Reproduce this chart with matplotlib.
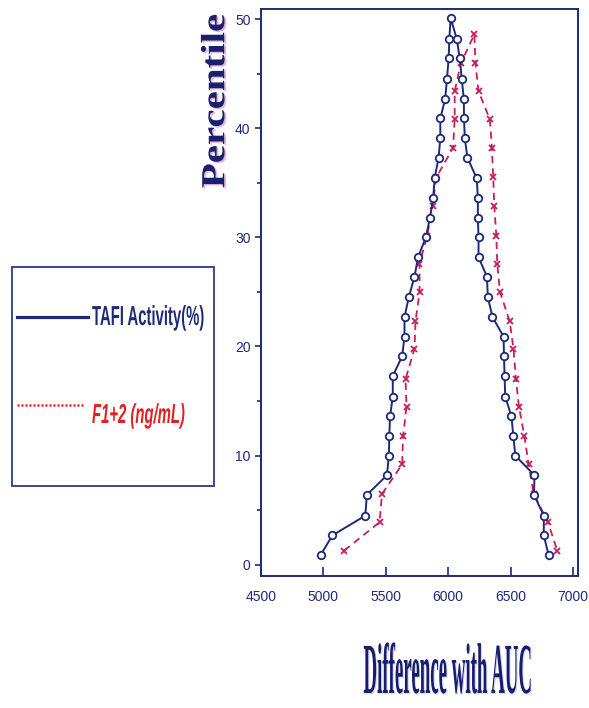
import matplotlib
matplotlib.use("Agg")
import matplotlib.pyplot as plt
from matplotlib.lines import Line2D
from matplotlib.patches import Rectangle
from matplotlib.patheffects import AbstractPathEffect
from matplotlib.ticker import MultipleLocator
from matplotlib.transforms import Affine2D
import matplotlib.colors as mcolors

# percentile levels of the rising half (the falling half uses the same levels)
tafi_pct = [0.9, 2.7, 4.5, 6.4, 8.2, 10.0, 11.8, 13.6, 15.4, 17.3, 19.1, 20.9, 22.7, 24.5,
            26.4, 28.2, 30.0, 31.8, 33.6, 35.4, 37.3, 39.1, 40.9, 42.7, 44.5, 46.4, 48.2]
tafi_left = [4978, 5073, 5336, 5348, 5509, 5525, 5528, 5534, 5556, 5556, 5631, 5650, 5650, 5684,
             5730, 5759, 5821, 5854, 5880, 5891, 5923, 5937, 5937, 5976, 5990, 6004, 6009]
tafi_right = [6804, 6766, 6766, 6688, 6691, 6538, 6522, 6507, 6457, 6452, 6447, 6444, 6355, 6318,
              6310, 6243, 6243, 6238, 6238, 6229, 6154, 6133, 6127, 6125, 6109, 6093, 6068]
tafi_peak_x, tafi_peak_y = 6020, 50.1

f12_pct = [1.3, 3.9, 6.5, 9.2, 11.8, 14.5, 17.0, 19.8, 22.3, 25.0, 27.6, 30.1, 32.9, 35.5,
           38.2, 40.8, 43.4, 46.0]
f12_left = [5167, 5450, 5470, 5631, 5639, 5666, 5658, 5730, 5738, 5771, 5770, 5831, 5875, 5905,
            6039, 6052, 6052, 6103]
f12_right = [6874, 6799, 6685, 6645, 6610, 6567, 6543, 6523, 6493, 6415, 6393, 6386, 6369, 6361,
             6350, 6334, 6243, 6218]
f12_peak_x, f12_peak_y = 6210, 48.6

series_labels = ["TAFI Activity(%)", "F1+2 (ng/mL)"]
xticks = [4500, 5000, 5500, 6000, 6500, 7000]
yticks = [0, 10, 20, 30, 40, 50]

NAVY = "#1e2a78"
CRIMSON = "#c81c5c"
RED = "#e3201f"


class Stretched(AbstractPathEffect):
    """Draw text glyphs scaled along their own vertical axis (fake condensed font)."""

    def __init__(self, sy=1.0, offset=(0, 0), color=None):
        super().__init__(offset)
        self._sy = sy
        self._color = color

    def draw_path(self, renderer, gc, tpath, affine, rgbFace=None):
        gc0 = renderer.new_gc()
        gc0.copy_properties(gc)
        if self._color is not None:
            rgbFace = mcolors.to_rgba(self._color)
            gc0.set_foreground(self._color)
        trans = Affine2D().scale(1, self._sy) + affine + self._offset_transform(renderer)
        renderer.draw_path(gc0, tpath, trans, rgbFace)
        gc0.restore()


def mountain(left, right, pct, px, py):
    xs = list(left) + [px] + list(reversed(right))
    ys = list(pct) + [py] + list(reversed(pct))
    return xs, ys


fig = plt.figure(figsize=(5.89, 7.08), dpi=100)
ax = fig.add_axes([0.4431, 0.1869, 0.5382, 0.8])

tx, ty = mountain(tafi_left, tafi_right, tafi_pct, tafi_peak_x, tafi_peak_y)
fx, fy = mountain(f12_left, f12_right, f12_pct, f12_peak_x, f12_peak_y)

ax.plot(fx, fy, color=CRIMSON, lw=1.3, dashes=(4.0, 2.8), marker="x", ms=5,
        mew=1.3, mec=CRIMSON, zorder=2)
ax.plot(tx, ty, color=NAVY, lw=1.4, marker="o", ms=5.4, mfc="white", mec=NAVY,
        mew=1.3, zorder=3)

ax.set_xlim(4500, 7040)
ax.set_ylim(-1, 50.9)
ax.set_xticks(xticks)
ax.set_yticks(yticks)
ax.yaxis.set_minor_locator(MultipleLocator(5))

for sp in ax.spines.values():
    sp.set_color(NAVY)
    sp.set_linewidth(1.4)

ax.tick_params(axis="x", direction="in", length=6.5, width=1.2, color=NAVY,
               labelcolor=NAVY, labelsize=10, pad=10)
ax.tick_params(axis="y", which="major", direction="out", length=4.5, width=1.2,
               color=NAVY, labelcolor=NAVY, labelsize=10, pad=3)
ax.tick_params(axis="y", which="minor", direction="out", length=3, width=1.2, color=NAVY)
for lab in ax.get_xticklabels() + ax.get_yticklabels():
    lab.set_family("Liberation Sans")

# axis titles
ylab = ax.set_ylabel("Percentile", family="Liberation Serif", fontweight="bold",
                     fontsize=29.5, color="#1a1f6e", va="baseline", ha="center",
                     rotation_mode="anchor")
ax.yaxis.set_label_coords(-0.116, 0.838)
ylab.set_path_effects([Stretched(0.82, offset=(1.3, -1.0), color="#e9b3dc"),
                       Stretched(0.82)])

xlab = ax.set_xlabel("Difference with AUC", family="Liberation Serif", fontweight="bold",
                     fontsize=13.6, color="#161c6e", va="baseline", ha="center")
ax.xaxis.set_label_coords(0.589, -0.207)
xlab.set_path_effects([Stretched(3.8, offset=(0.8, -0.8), color="#d9d6ef"),
                       Stretched(3.8)])

# legend box drawn in figure pixels
W, H = 589.0, 708.0


def fx_(px):
    return px / W


def fy_(py):
    return 1 - py / H


fig.patches.append(Rectangle((fx_(12), fy_(486)), fx_(214) - fx_(12), fy_(267) - fy_(486),
                             transform=fig.transFigure, fill=False, edgecolor="#2b3990",
                             lw=1.3))
fig.lines.append(Line2D([fx_(17), fx_(88)], [fy_(317), fy_(317)], transform=fig.transFigure,
                        color=NAVY, lw=2.3))
fig.lines.append(Line2D([fx_(17), fx_(83)], [fy_(405.5), fy_(405.5)], transform=fig.transFigure,
                        color=RED, lw=1.8, linestyle=(0, (0.8, 0.8))))
t1 = fig.text(fx_(92), fy_(325), series_labels[0], family="Liberation Sans",
              fontweight="bold", fontsize=10.7, color=NAVY, va="baseline", ha="left")
t1.set_path_effects([Stretched(1.85)])
t2 = fig.text(fx_(92), fy_(423), series_labels[1], family="Liberation Sans",
              fontweight="bold", style="italic", fontsize=10.7, color=RED,
              va="baseline", ha="left")
t2.set_path_effects([Stretched(1.85)])

fig.savefig("out.png", dpi=100)
